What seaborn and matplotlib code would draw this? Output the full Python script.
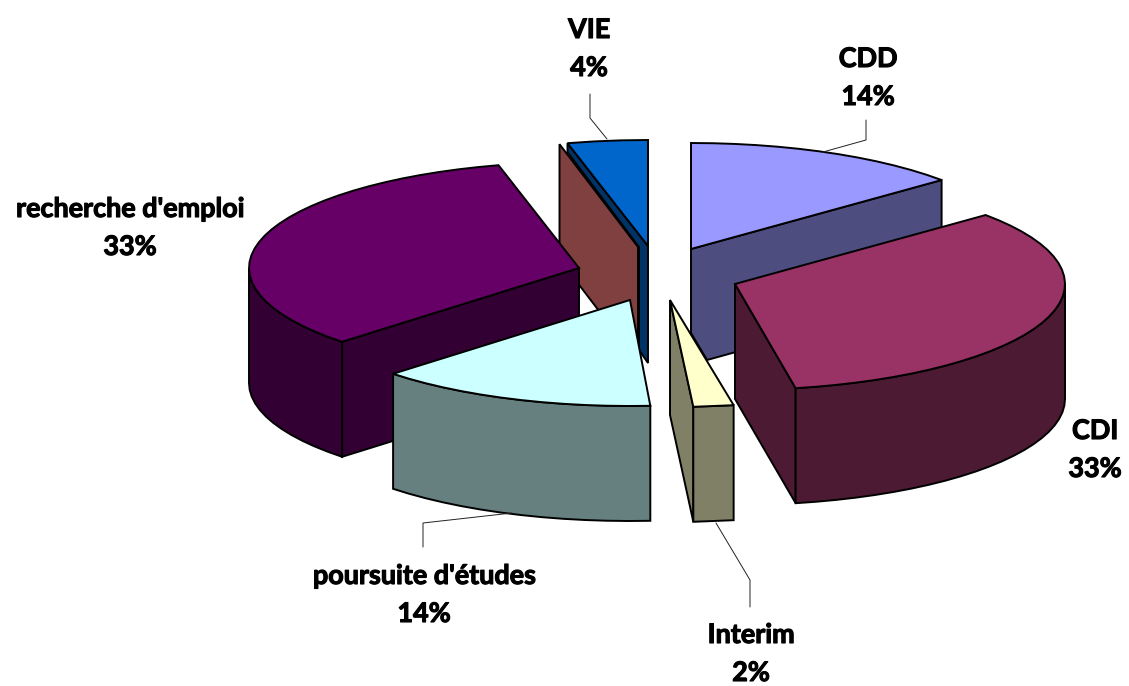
import numpy as np
import matplotlib
matplotlib.use("Agg")
import matplotlib.pyplot as plt
import matplotlib.patheffects as pe
import seaborn as sns

# categories and counts, clockwise from 12 o'clock
categories = ["CDD", "CDI", "Interim", "poursuite d'études", "recherche d'emploi", "VIE"]
counts = [7, 17, 1, 7, 17, 2]

top_colors = ["#9999FF", "#993366", "#FFFFCC", "#CCFFFF", "#660066", "#0066CC"]
side_colors = ["#4D4D80", "#4D1A33", "#808066", "#668080", "#330033", "#003366"]
inner_color = "#804040"

# layout of the exploded pie, in pixels
RX, RY, DEPTH = 330, 106, 115
apex = [(691, 249), (735, 284), (673, 301), (630, 300), (579, 268), (648, 246)]
tip = {2: (670, 300)}
label_pos = [(868, 78), (1095, 450), (751, 654), (424, 595), (130, 228), (589, 49)]
leaders = [
    [(866, 120), (866, 140), (823, 152)],
    [(750, 607), (750, 580), (716, 523)],
    [(423, 547), (423, 523), (512, 513)],
    [(590, 94), (590, 118), (607, 139)],
]

sns.set_theme(style="white")
top_pal = sns.color_palette(top_colors)
side_pal = sns.color_palette(side_colors)

fig = plt.figure(figsize=(11.29, 6.86), dpi=100)
ax = fig.add_axes([0, 0, 1, 1])
ax.set_xlim(0, 1129)
ax.set_ylim(686, 0)
ax.set_axis_off()

edges = np.cumsum([0] + counts) / sum(counts) * 360


def rim(i, a0, a1, step=3.6):
    n = max(int(abs(a1 - a0) / step), 1) + 1
    t = np.radians(np.linspace(a0, a1, n))
    return np.column_stack([apex[i][0] + RX * np.sin(t), apex[i][1] - RY * np.cos(t)])


def poly(pts, color):
    ax.fill(*np.asarray(pts).T, facecolor=color, edgecolor="black", lw=1.4, joinstyle="miter")


def top(i):
    poly(np.vstack([[tip.get(i, apex[i])], rim(i, edges[i], edges[i + 1])]), top_pal[i])


def outer_side(i, a0, a1):
    r = rim(i, a0, a1)
    poly(np.vstack([r, (r + [0, DEPTH])[::-1]]), side_pal[i])


def radial_side(i, angle):
    a = np.array(tip.get(i, apex[i]), float)
    p = rim(i, angle, angle)[0]
    poly([a, p, p + [0, DEPTH], a + [0, DEPTH]], side_pal[i])


# VIE, with its inner face
a = np.array(apex[5], float)
p = rim(5, edges[5], edges[5])[0]
poly([[a[0] - 10, a[1] + 1], [p[0] - 8, p[1] + 1], [p[0] - 8, p[1] + 1 + DEPTH],
      [a[0] - 10, a[1] + 1 + DEPTH]], inner_color)
poly([p, a, a + [0, DEPTH + 2], [a[0] - 9, a[1] + 104], [a[0] - 9, a[1] + 1], [p[0], p[1] + 9]], side_pal[5])
top(5)

# CDD, its front corner is cut off
a = np.array(apex[0], float)
p = rim(0, edges[1], edges[1])[0]
poly([a, p, p + [0, DEPTH], [a[0] + 16, a[1] + 111], [a[0], a[1] + 84]], side_pal[0])
top(0)

# recherche d'emploi
radial_side(4, edges[4])
outer_side(4, edges[4], 270)
top(4)

# poursuite d'études
outer_side(3, edges[3], edges[4])
top(3)

# Interim
radial_side(2, edges[3])
outer_side(2, edges[2], edges[3])
top(2)

# CDI
radial_side(1, edges[2])
outer_side(1, 90, edges[2])
top(1)

for line in leaders:
    ax.plot(*np.array(line).T, color="#222222", lw=0.7, solid_joinstyle="miter")

# labels are heavier than Lato Bold, so thicken them a little
heavy = [pe.withStroke(linewidth=0.8, foreground="black")]
for name, c, (x, y) in zip(categories, counts, label_pos):
    ax.text(x, y, f"{name}\n{round(c / sum(counts) * 100)}%", ha="center", va="center",
            family="Lato", weight="bold", fontsize=19.4, linespacing=1.7, color="black",
            path_effects=heavy)

sns.despine(left=True, bottom=True)
fig.savefig("out.png", dpi=100, facecolor="white")
